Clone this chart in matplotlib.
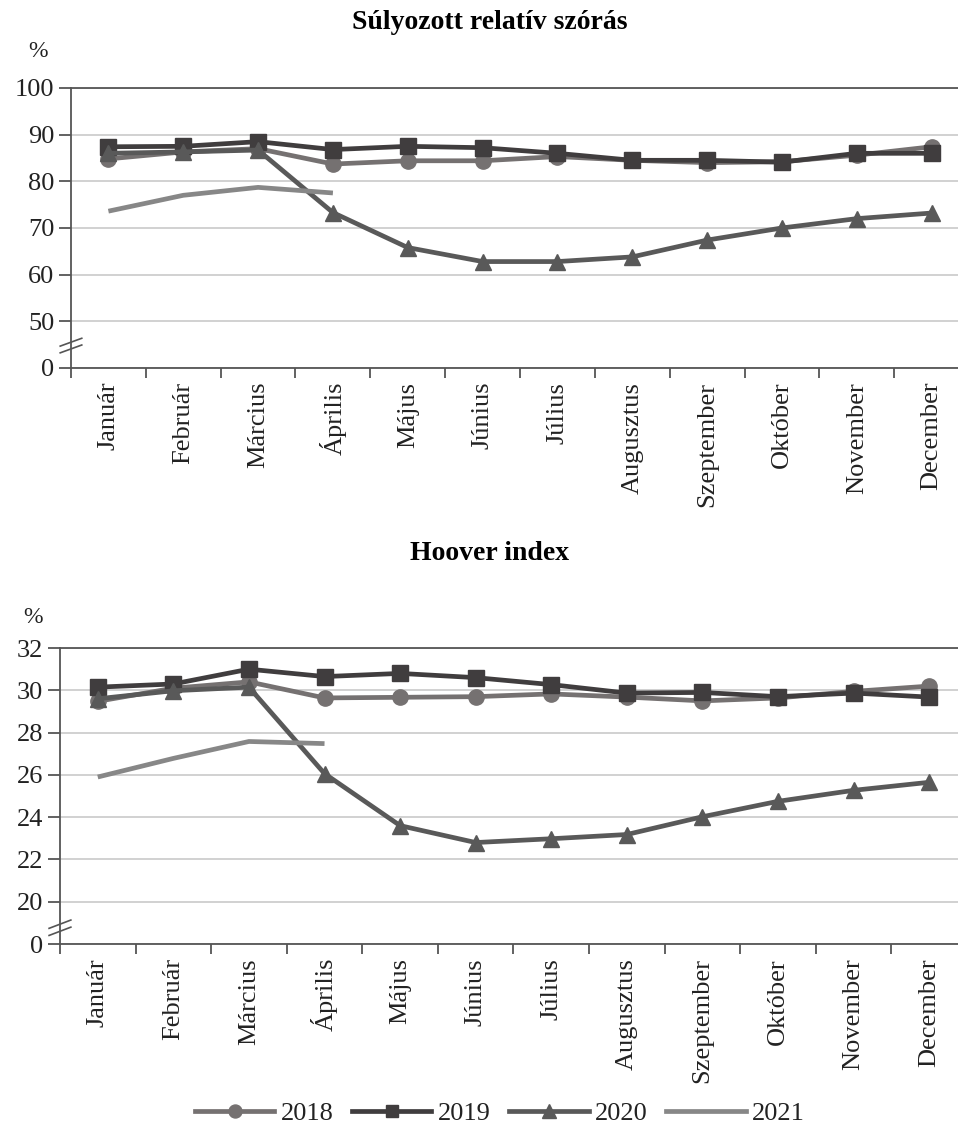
import numpy as np
import matplotlib
matplotlib.use("Agg")
import matplotlib.pyplot as plt
from matplotlib.lines import Line2D

# Adatok
honapok = ["Január", "Február", "Március", "Április", "Május", "Június",
           "Július", "Augusztus", "Szeptember", "Október", "November", "December"]

# Súlyozott relatív szórás (%)
szoras_2018 = [84.8, 86.3, 87.0, 83.7, 84.4, 84.4, 85.3, 84.5, 84.0, 84.2, 85.6, 87.4]
szoras_2019 = [87.4, 87.5, 88.5, 86.8, 87.5, 87.2, 86.0, 84.5, 84.5, 84.1, 86.0, 86.0]
szoras_2020 = [86.0, 86.3, 86.7, 73.3, 65.8, 62.8, 62.8, 63.8, 67.4, 70.0, 72.0, 73.2]
szoras_2021 = [73.6, 77.0, 78.7, 77.5]

# Hoover index (%)
hoover_2018 = [29.48, 30.1, 30.4, 29.64, 29.67, 29.7, 29.83, 29.68, 29.5, 29.64, 29.95, 30.2]
hoover_2019 = [30.15, 30.3, 31.0, 30.65, 30.8, 30.6, 30.27, 29.87, 29.9, 29.7, 29.87, 29.68]
hoover_2020 = [29.6, 29.98, 30.15, 26.06, 23.6, 22.8, 22.98, 23.18, 24.02, 24.75, 25.27, 25.65]
hoover_2021 = [25.9, 26.78, 27.58, 27.48]

evek = ["2018", "2019", "2020", "2021"]
szinek = ["#757171", "#403d3e", "#595959", "#878787"]
jelek = ["o", "s", "^", None]
jelmeret = [11, 11, 12, 0]

plt.rcParams["font.family"] = ["Liberation Serif", "DejaVu Serif"]
plt.rcParams["font.size"] = 19
plt.rcParams["text.color"] = "#222222"
plt.rcParams["xtick.color"] = "#222222"
plt.rcParams["ytick.color"] = "#222222"

fig = plt.figure(figsize=(9.58, 11.28), dpi=100)


def torott_skala(also, lepes):
    # a tengely 0 es 'also' kozott csak egy osztasnyi helyet foglal
    def elore(v):
        v = np.asarray(v, dtype=float)
        return np.where(v >= also, v - also + lepes, v * lepes / also)

    def vissza(t):
        t = np.asarray(t, dtype=float)
        return np.where(t >= lepes, t + also - lepes, t * also / lepes)
    return elore, vissza


def rajzol(ax, sorok, also, felso, lepes, torres_y):
    x = np.arange(len(honapok))
    for ertekek, szin, jel, ms in zip(sorok, szinek, jelek, jelmeret):
        ax.plot(x[:len(ertekek)], ertekek, color=szin, lw=3.4, marker=jel,
                markersize=ms, solid_capstyle="butt", zorder=3, clip_on=False)

    ax.set_yscale("function", functions=torott_skala(also, lepes))
    ax.set_ylim(0, felso)
    yt = [0] + list(np.arange(also, felso + 0.01, lepes))
    ax.set_yticks(yt)
    ax.set_yticklabels([f"{v:g}" for v in yt])
    ax.yaxis.grid(True, color="#c9c9c9", lw=1.2)
    ax.set_axisbelow(True)

    ax.set_xlim(-0.5, len(honapok) - 0.5)
    ax.set_xticks(x)
    ax.set_xticklabels(honapok, rotation=90)
    ax.set_xticks(np.arange(-0.5, len(honapok), 1), minor=True)
    ax.tick_params(axis="x", which="major", length=0, pad=10)
    ax.tick_params(axis="x", which="minor", length=7, width=1.3, color="#555555")
    ax.tick_params(axis="y", length=9, width=1.3, color="#555555", pad=3)

    for s in ["left", "bottom", "top"]:
        ax.spines[s].set_color("#555555")
        ax.spines[s].set_linewidth(1.3)
    ax.spines["right"].set_visible(False)

    # tengelytores jele
    for dy in (-0.012, 0.012):
        ax.plot([-0.012, 0.012], [torres_y + dy - 0.014, torres_y + dy + 0.014],
                transform=ax.transAxes, color="#555555", lw=1.2, clip_on=False)


ax1 = fig.add_axes([0.0741, 0.6738, 0.9374, 0.2482])
rajzol(ax1, [szoras_2018, szoras_2019, szoras_2020, szoras_2021], 50, 100, 10, 0.08)

ax2 = fig.add_axes([0.0626, 0.1631, 0.9468, 0.2624])
rajzol(ax2, [hoover_2018, hoover_2019, hoover_2020, hoover_2021], 20, 32, 2, 0.055)

fig.text(0.511, 0.980, "Súlyozott relatív szórás", ha="center", va="center",
         fontsize=20, fontweight="bold", color="black")
fig.text(0.511, 0.509, "Hoover index", ha="center", va="center",
         fontsize=20, fontweight="bold", color="black")
fig.text(0.040, 0.954, "%", ha="center", va="center", fontsize=17)
fig.text(0.034, 0.453, "%", ha="center", va="center", fontsize=17)

kezelok = [Line2D([], [], color=c, lw=3.4, marker=m, markersize=ms * 0.85)
           for c, m, ms in zip(szinek, jelek, jelmeret)]
fig.legend(kezelok, evek, loc="center", bbox_to_anchor=(0.522, 0.013), ncol=4,
           frameon=False, handlelength=3.0, columnspacing=0.7, handletextpad=0.25,
           fontsize=19)

fig.savefig("out.png", dpi=100)
